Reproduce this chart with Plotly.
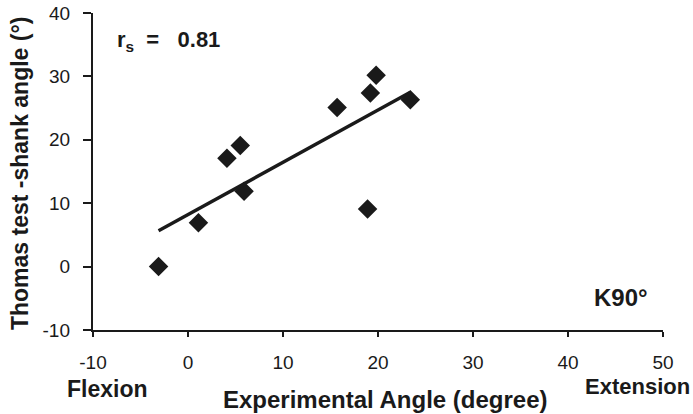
import numpy as np
import plotly.graph_objects as go

# Experimental knee angle (degree) vs Thomas test shank angle (°), K90° condition
experimental_angle = [-3.1, 1.1, 4.1, 5.5, 5.9, 15.7, 19.2, 19.8, 18.9, 23.4]
thomas_shank_angle = [0.0, 6.9, 17.1, 19.1, 11.9, 25.1, 27.4, 30.2, 9.1, 26.3]

x_ticks = [-10, 0, 10, 20, 30, 40, 50]
y_ticks = [-10, 0, 10, 20, 30, 40]

# least-squares trend line over the observed range
slope, intercept = np.polyfit(experimental_angle, thomas_shank_angle, 1)
fit_x = np.array([min(experimental_angle), max(experimental_angle)])
fit_y = slope * fit_x + intercept

FONT = "Liberation Sans, Arial, Helvetica, sans-serif"
INK = "#1a1a1a"
NB = "\u00a0"
# trailing gap keeps the y labels clear of the tick marks
Y_PAD = "\u00a0\u2009"


def label(text, x, y, size, xanchor="left", angle=0):
    return dict(text=text, xref="paper", yref="paper", x=x, y=y,
                xanchor=xanchor, yanchor="middle", textangle=angle,
                showarrow=False, font=dict(size=size, family=FONT, color=INK))


fig = go.Figure()
fig.add_trace(go.Scatter(
    x=fit_x, y=fit_y, mode="lines",
    line=dict(color=INK, width=3.4),
    showlegend=False, hoverinfo="skip",
))
fig.add_trace(go.Scatter(
    x=experimental_angle, y=thomas_shank_angle, mode="markers",
    marker=dict(symbol="diamond", size=15, color=INK, line=dict(width=0)),
    showlegend=False,
))

fig.update_layout(
    width=693, height=414,
    margin=dict(l=93, r=30, t=13, b=84),
    paper_bgcolor="white", plot_bgcolor="white",
    font=dict(family=FONT, color=INK, size=19),
    xaxis=dict(
        range=[-10, 50], tickvals=x_ticks, ticktext=[str(v) for v in x_ticks],
        showline=True, linecolor=INK, linewidth=2.2,
        ticks="outside", ticklen=5, tickwidth=1.5, tickcolor=INK,
        ticklabelstandoff=9,
        showgrid=False, zeroline=False, automargin=False,
        tickfont=dict(size=19, family=FONT, color=INK),
    ),
    yaxis=dict(
        range=[-10, 40], tickvals=y_ticks,
        ticktext=[f"{v}{Y_PAD}" for v in y_ticks],
        showline=True, linecolor=INK, linewidth=2.2,
        ticks="outside", ticklen=8, tickwidth=1.5, tickcolor=INK,
        showgrid=False, zeroline=False, automargin=False,
        tickfont=dict(size=19, family=FONT, color=INK),
    ),
    annotations=[
        label("<b>Thomas test -shank angle (°)</b>", -0.128, 0.492, 23,
              xanchor="center", angle=-90),
        label(f"<b>r<sub>s</sub>{NB}{NB}={NB}{NB}{NB}0.81</b>", 0.0386, 0.913, 22),
        label("<b>K90°</b>", 0.875, 0.104, 24),
        label("<b>Flexion</b>", 0.0246, -0.186, 23, xanchor="center"),
        label("<b>Experimental Angle (degree)</b>", 0.2246, -0.2177, 24),
        label("<b>Extension</b>", 0.8596, -0.1767, 22),
    ],
)

fig.write_html("out.html")
